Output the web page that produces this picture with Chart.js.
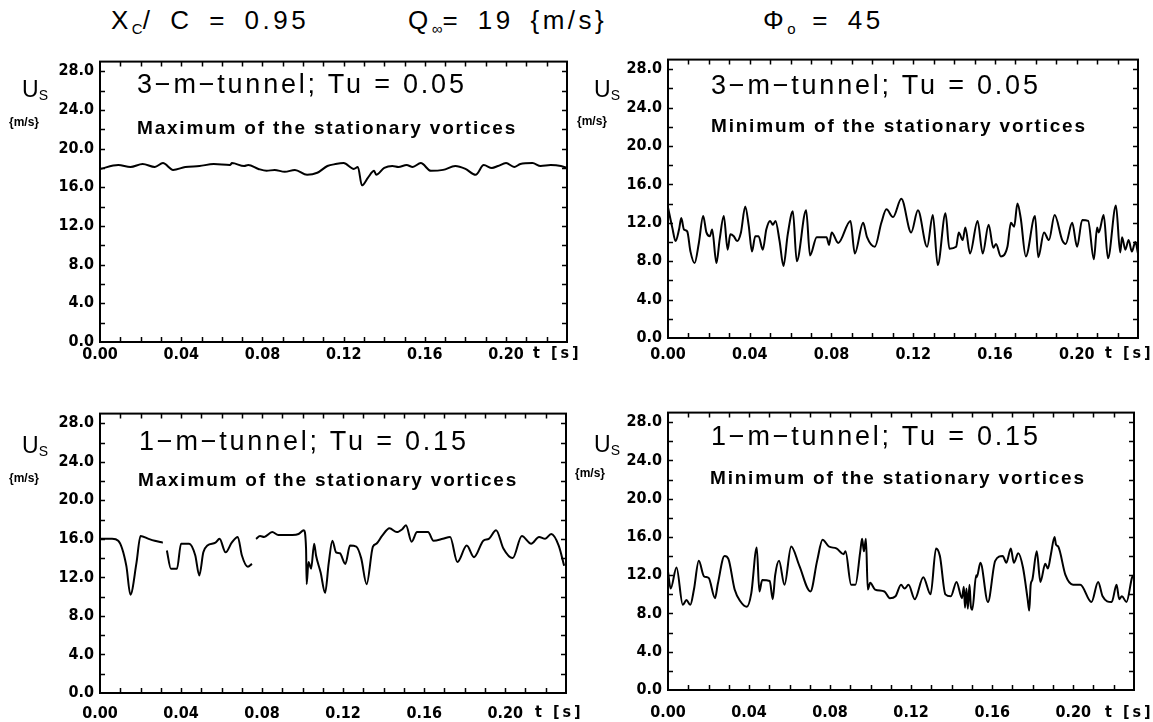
<!DOCTYPE html>
<html>
<head>
<meta charset="utf-8">
<title>Stationary vortices</title>
<script src="https://cdn.jsdelivr.net/npm/chart.js@4.4.1/dist/chart.umd.min.js"></script>
<style>
  body { margin: 0; background: #fff; }
  #page { position: relative; width: 1153px; height: 722px; overflow: hidden; background: #fff;
          font-family: 'Liberation Sans', Arial, sans-serif; color: #000; }
  canvas { position: absolute; }
  .t { position: absolute; white-space: nowrap; line-height: 1; }
  .head { font-size: 26px; top: 7px; letter-spacing: 3.5px; word-spacing: 6px; }
  .head sub { font-size: 15px; vertical-align: -5px; letter-spacing: 0; }
  .big { font-size: 27px; letter-spacing: 2.8px; }
  .sub { font-size: 19px; font-weight: bold; letter-spacing: 1.8px; }
  .us { font-size: 23px; }
  .us sub { font-size: 14px; vertical-align: -3px; }
  .unit { font-size: 12px; font-weight: bold; }
  .ts { font-size: 16px; font-weight: bold; letter-spacing: 3px;
        font-family: 'Liberation Sans Narrow', 'DejaVu Sans Condensed', sans-serif; }
</style>
</head>
<body>
<div id="page">
  <div class="t head" style="left:111px">X<sub>C</sub>/ C = 0.95</div>
  <div class="t head" style="left:408px">Q<sub>∞</sub>= 19 {m/s}</div>
  <div class="t head" style="left:763px">Φ<sub>o</sub> = 45</div>

  <canvas id="tl"></canvas>
  <canvas id="tr"></canvas>
  <canvas id="bl"></canvas>
  <canvas id="br"></canvas>

  <div class="t us" style="left:22px;top:78px">U<sub>S</sub></div>
  <div class="t unit" style="left:9px;top:116px">{m/s}</div>
  <div class="t big" style="left:137px;top:71px">3−m−tunnel; Tu = 0.05</div>
  <div class="t sub" style="left:137px;top:118px">Maximum of the stationary vortices</div>
  <div class="t ts" style="left:533px;top:345px">t [s]</div>

  <div class="t us" style="left:594px;top:78px">U<sub>S</sub></div>
  <div class="t unit" style="left:577px;top:115px">{m/s}</div>
  <div class="t big" style="left:711px;top:72px">3−m−tunnel; Tu = 0.05</div>
  <div class="t sub" style="left:711px;top:116px">Minimum of the stationary vortices</div>
  <div class="t ts" style="left:1105px;top:345px">t [s]</div>

  <div class="t us" style="left:22px;top:434px">U<sub>S</sub></div>
  <div class="t unit" style="left:9px;top:472px">{m/s}</div>
  <div class="t big" style="left:139px;top:428px">1−m−tunnel; Tu = 0.15</div>
  <div class="t sub" style="left:138px;top:470px">Maximum of the stationary vortices</div>
  <div class="t ts" style="left:535px;top:704px">t [s]</div>

  <div class="t us" style="left:594px;top:433px">U<sub>S</sub></div>
  <div class="t unit" style="left:575px;top:467px">{m/s}</div>
  <div class="t big" style="left:711px;top:423px">1−m−tunnel; Tu = 0.15</div>
  <div class="t sub" style="left:710px;top:468px">Minimum of the stationary vortices</div>
  <div class="t ts" style="left:1105px;top:704px">t [s]</div>
</div>
<script>
// time axis [s] and velocity U_S [m/s]

// 3-m-tunnel, maximum of the stationary vortices
const tlT = [0.000,0.009,0.015,0.021,0.027,0.031,0.036,0.042,0.049,0.056,0.064,0.065,0.071,0.073,0.078,0.082,0.086,0.091,0.096,0.102,
             0.107,0.112,0.116,0.120,0.125,0.127,0.129,0.132,0.135,0.136,0.140,0.144,0.147,0.151,0.154,0.158,0.163,0.169,0.175,0.180,
             0.185,0.189,0.193,0.196,0.200,0.204,0.207,0.213,0.217,0.222,0.227,0.230];
const tlU = [17.9,18.3,18.1,18.4,18.1,18.5,17.8,18.1,18.2,18.4,18.3,18.5,18.2,18.3,17.9,17.7,17.8,17.6,17.8,17.3,
             17.5,18.2,18.4,18.5,17.9,18.1,16.2,17.0,17.7,17.3,18.0,18.2,18.1,18.3,18.1,18.5,17.7,17.8,18.2,17.9,
             17.3,18.3,18.0,18.2,18.5,18.1,18.4,18.5,18.2,18.3,18.2,18.0];

// 3-m-tunnel, minimum of the stationary vortices
const trT = [0.0000,0.0021,0.0037,0.0054,0.0065,0.0078,0.0094,0.0110,0.0130,0.0151,0.0172,0.0188,0.0205,0.0216,0.0237,0.0253,0.0273,0.0292,0.0305,0.0322,
             0.0338,0.0357,0.0378,0.0395,0.0411,0.0427,0.0443,0.0464,0.0481,0.0500,0.0513,0.0526,0.0546,0.0565,0.0586,0.0611,0.0630,0.0676,0.0695,0.0728,
             0.0776,0.0788,0.0801,0.0833,0.0893,0.0914,0.0955,0.0974,0.1012,0.1044,0.1069,0.1101,0.1142,0.1190,0.1223,0.1268,0.1296,0.1320,0.1358,0.1377,
             0.1410,0.1423,0.1442,0.1455,0.1478,0.1515,0.1540,0.1569,0.1592,0.1605,0.1629,0.1661,0.1678,0.1694,0.1710,0.1726,0.1751,0.1796,0.1812,0.1840,
             0.1864,0.1892,0.1929,0.1946,0.1978,0.2002,0.2027,0.2056,0.2084,0.2100,0.2108,0.2132,0.2153,0.2192,0.2213,0.2222,0.2238,0.2254,0.2270,0.2287,0.2300];
const trU = [13.6,11.5,10.1,11.3,12.5,11.3,11.1,9.0,7.8,9.9,12.7,11.0,10.6,11.3,7.8,10.3,12.7,9.2,10.8,10.6,
             10.1,11.0,13.7,11.7,9.0,10.6,10.6,9.2,11.3,12.2,11.8,12.2,10.1,7.5,10.8,13.2,8.0,13.3,8.6,10.5,
             10.5,9.7,11.0,9.9,12.2,8.8,12.0,10.5,9.5,12.0,13.4,12.6,14.5,11.0,13.3,9.5,12.8,7.6,13.0,9.3,
             9.5,11.0,10.2,11.5,8.8,12.2,8.8,11.8,9.4,9.8,8.5,9.5,12.0,11.6,14.0,12.5,8.5,12.7,8.4,11.0,
             10.2,12.8,10.2,9.8,12.0,9.5,12.3,12.2,8.2,11.5,11.0,12.8,8.3,13.8,8.9,10.5,9.2,10.2,9.0,10.0,8.8];

// 1-m-tunnel, maximum of the stationary vortices (null = break in the trace)
const blT = [0.000,0.006,0.009,0.013,0.015,0.018,0.020,0.024,0.027,0.031,0.032,0.033,0.035,0.038,0.040,0.044,0.047,0.049,0.051,0.053,
             0.057,0.059,0.062,0.065,0.068,0.070,0.073,0.075,0.0755,0.077,0.079,0.081,0.085,0.088,0.095,0.098,0.1006,0.1017,0.1020,0.1029,
             0.1042,0.1057,0.1066,0.1089,0.1111,0.1129,0.1147,0.1165,0.1184,0.1211,0.1234,0.1265,0.1289,0.1316,0.1347,0.1365,0.1392,0.1429,0.1465,0.1492,
             0.1510,0.1538,0.1565,0.1619,0.1646,0.1692,0.1728,0.1764,0.1810,0.1846,0.1892,0.1919,0.1955,0.1991,0.2037,0.2082,0.2128,0.2167,0.2197,0.2227,
             0.2264,0.2291];
const blU = [16.0,16.0,15.8,13.2,10.2,13.5,16.3,16.0,15.8,15.6,null,14.8,12.9,12.9,15.5,15.5,14.3,12.2,14.6,15.3,
             15.6,16.0,14.6,15.6,16.2,14.3,13.1,13.4,null,16.0,16.3,16.2,16.7,16.4,16.4,16.5,16.9,15.0,11.3,13.6,
             12.9,15.5,14.3,12.5,10.4,13.5,15.8,14.6,14.5,13.4,15.3,15.2,14.0,11.3,15.2,15.5,16.3,17.1,16.7,17.0,
             17.4,15.7,16.7,16.7,15.8,16.0,16.2,13.6,15.3,14.1,15.8,16.0,16.9,15.0,14.0,16.3,15.5,16.2,16.0,16.5,
             15.3,13.2];

// 1-m-tunnel, minimum of the stationary vortices
const brT = [0.0000,0.0013,0.0042,0.0073,0.0091,0.0110,0.0128,0.0152,0.0177,0.0201,0.0232,0.0246,0.0279,0.0298,0.0329,0.0356,0.0389,0.0411,0.0438,0.0451,
             0.0465,0.0502,0.0517,0.0529,0.0548,0.0575,0.0608,0.0648,0.0703,0.0736,0.0763,0.0794,0.0831,0.0867,0.0876,0.0904,0.0925,0.0949,0.0958,0.0967,
             0.0977,0.0986,0.0998,0.1022,0.1068,0.1095,0.1123,0.1150,0.1168,0.1187,0.1218,0.1260,0.1296,0.1323,0.1342,0.1369,0.1396,0.1424,0.1451,0.1460,
             0.1466,0.1473,0.1480,0.1488,0.1495,0.1502,0.1521,0.1524,0.1542,0.1579,0.1615,0.1652,0.1670,0.1692,0.1707,0.1729,0.1752,0.1775,0.1783,0.1790,
             0.1798,0.1820,0.1838,0.1862,0.1875,0.1890,0.1908,0.1915,0.1926,0.1962,0.1999,0.2035,0.2090,0.2123,0.2145,0.2190,0.2214,0.2227,0.2240,0.2263,
             0.2291,0.2300];
const brU = [12.4,10.6,12.8,8.9,9.4,8.9,10.5,13.5,11.9,11.7,9.6,11.1,14.0,13.7,10.5,9.3,8.7,10.1,14.9,10.3,
             11.5,11.4,9.5,12.0,13.5,11.0,15.0,13.0,10.3,13.5,15.7,15.0,14.8,14.2,14.5,11.0,11.0,14.5,15.8,14.5,
             15.8,10.5,11.2,10.5,10.3,9.6,9.8,11.0,10.6,11.0,9.5,11.8,10.0,14.8,14.0,10.0,9.8,11.3,9.6,10.8,
             8.6,10.6,8.5,11.0,8.7,8.4,12.0,11.8,13.3,9.2,13.5,14.0,13.3,14.8,13.3,14.3,12.8,9.5,8.3,11.0,
             11.5,14.5,11.3,13.2,12.7,14.2,16.0,15.2,15.0,12.0,11.0,11.0,9.2,11.3,9.8,9.2,11.0,9.5,9.8,9.2,
             11.8,12.0];

const tMax = 0.23, uMax = 29;
const tStep = 0.01, tLabelStep = 0.04;
const uStep = 2, uLabelStep = 4;

// plot frames in page pixels
const panels = [
  { id: 'tl', box: { l: 100, r: 567, t: 54, b: 342 }, xPad: 3,  t: tlT, u: tlU },
  { id: 'tr', box: { l: 668, r: 1138, t: 52, b: 338 }, xPad: 7,  t: trT, u: trU },
  { id: 'bl', box: { l: 100, r: 567, t: 406, b: 693 }, xPad: 11, t: blT, u: blU },
  { id: 'br', box: { l: 668, r: 1137, t: 405, b: 690 }, xPad: 13, t: brT, u: brU }
];

const Y_W = 60, X_H = 34, PAD_T = 8, PAD_R = 10;
const tickFont = { family: "'Liberation Sans Narrow', 'DejaVu Sans Condensed', sans-serif", size: 16, weight: 'bold' };

function isMultiple(v, step) {
  const k = v / step;
  return Math.abs(k - Math.round(k)) < 1e-6;
}

// frame with short inward ticks on all four sides
const frameTicks = {
  id: 'frameTicks',
  afterDatasetsDraw(chart) {
    const { ctx, chartArea: a, scales: { x, y } } = chart;
    ctx.save();
    ctx.strokeStyle = '#000';
    ctx.lineWidth = 2;
    ctx.strokeRect(a.left, a.top, a.right - a.left, a.bottom - a.top);
    ctx.lineWidth = 1.5;
    ctx.beginPath();
    x.ticks.forEach(tk => {
      if (!isMultiple(tk.value, tStep) || tk.value <= 0 || tk.value >= tMax - 1e-6) return;
      const px = Math.round(x.getPixelForValue(tk.value)) + 0.5;
      ctx.moveTo(px, a.bottom); ctx.lineTo(px, a.bottom - 5);
      ctx.moveTo(px, a.top); ctx.lineTo(px, a.top + 5);
    });
    y.ticks.forEach(tk => {
      if (!isMultiple(tk.value, uStep) || tk.value <= 0 || tk.value >= uMax) return;
      const py = Math.round(y.getPixelForValue(tk.value)) + 0.5;
      ctx.moveTo(a.left, py); ctx.lineTo(a.left + 5, py);
      ctx.moveTo(a.right, py); ctx.lineTo(a.right - 5, py);
    });
    ctx.stroke();
    ctx.restore();
  }
};

panels.forEach(p => {
  const cv = document.getElementById(p.id);
  const b = p.box;
  cv.width = b.r - b.l + Y_W + PAD_R;
  cv.height = b.b - b.t + PAD_T + X_H;
  cv.style.left = (b.l - Y_W) + 'px';
  cv.style.top = (b.t - PAD_T) + 'px';

  const pts = p.t.map((t, i) => ({ x: t, y: p.u[i] }));

  new Chart(cv.getContext('2d'), {
    type: 'line',
    data: {
      datasets: [{
        data: pts,
        borderColor: '#000',
        borderWidth: 2,
        pointRadius: 0,
        cubicInterpolationMode: 'monotone',
        spanGaps: false,
        fill: false
      }]
    },
    options: {
      responsive: false,
      animation: false,
      devicePixelRatio: 1,
      layout: { padding: { left: 0, right: PAD_R, top: PAD_T, bottom: 0 } },
      plugins: { legend: { display: false }, tooltip: { enabled: false } },
      scales: {
        x: {
          type: 'linear', min: 0, max: tMax,
          grid: { display: false, drawTicks: false }, border: { display: false },
          ticks: {
            stepSize: tStep, includeBounds: false, autoSkip: false, maxRotation: 0, padding: p.xPad,
            color: '#000', font: tickFont,
            callback: v => isMultiple(v, tLabelStep) ? v.toFixed(2) : ''
          },
          afterFit: s => { s.height = X_H; }
        },
        y: {
          min: 0, max: uMax,
          grid: { display: false, drawTicks: false }, border: { display: false },
          ticks: {
            stepSize: uStep, includeBounds: false, autoSkip: false, padding: 6,
            color: '#000', font: tickFont,
            callback: v => isMultiple(v, uLabelStep) ? v.toFixed(1) : ''
          },
          afterFit: s => { s.width = Y_W; }
        }
      }
    },
    plugins: [frameTicks]
  });
});
</script>
</body>
</html>
